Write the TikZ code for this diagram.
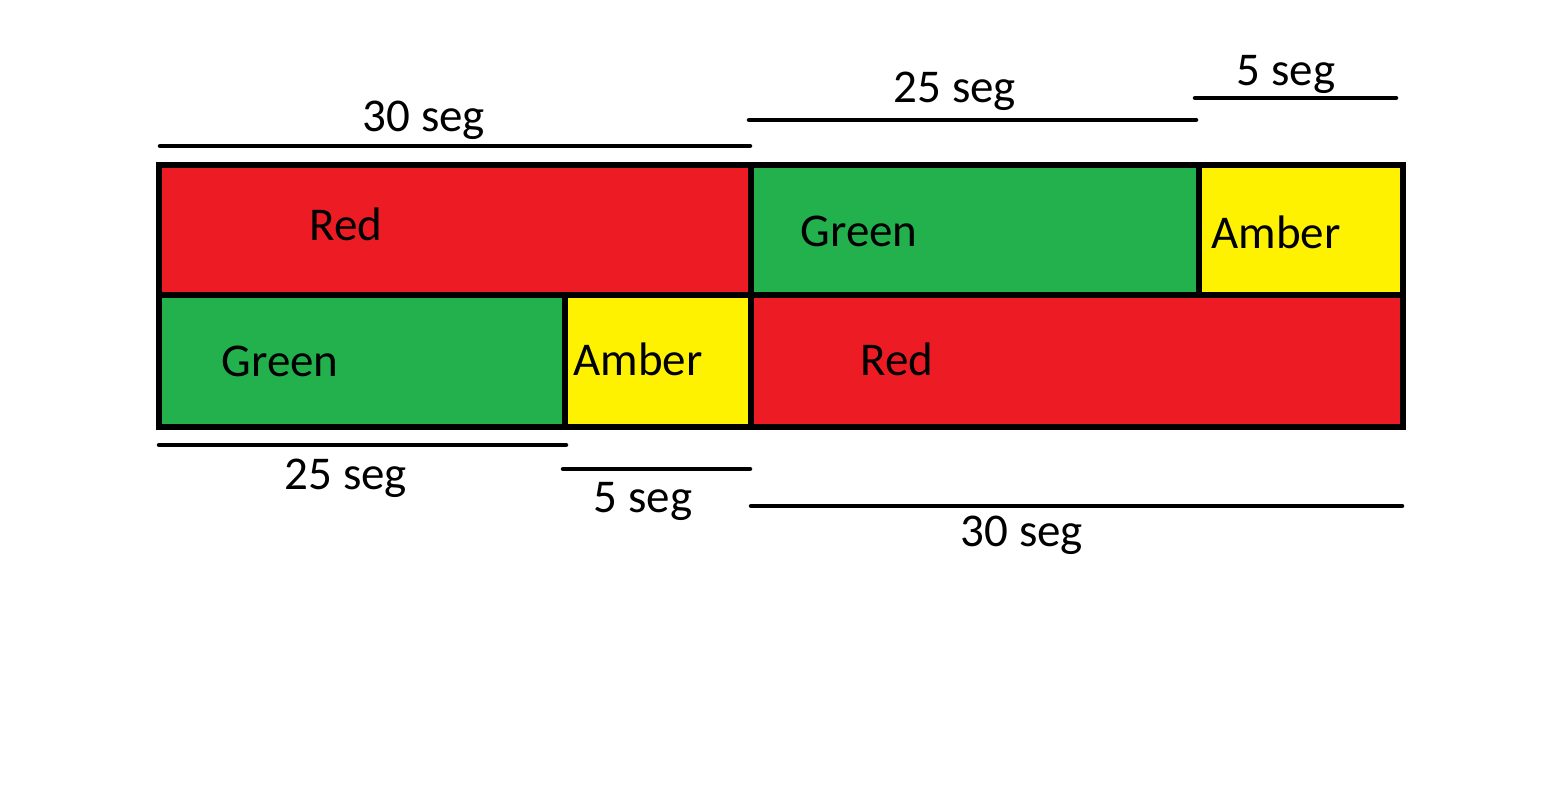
\documentclass[tikz,border=0pt]{standalone}
\usepackage{fontspec}
\setmainfont{Carlito}
\definecolor{pRed}{HTML}{ED1C24}
\definecolor{pGreen}{HTML}{22B14C}
\definecolor{pAmber}{HTML}{FFF200}
\begin{document}
\begin{tikzpicture}[x=1pt,y=-1pt,
  cell/.style={draw=black,line width=5.5pt},
  lbl/.style={anchor=base,inner sep=0pt,font=\fontsize{47}{52}\selectfont},
  dim/.style={line width=4.5pt,line cap=round}]
\useasboundingbox (0,0) rectangle (1541,806);
% top row
\filldraw[cell,fill=pRed] (159,165) rectangle (751,295);
\filldraw[cell,fill=pGreen] (751,165) rectangle (1199,295);
\filldraw[cell,fill=pAmber] (1199,165) rectangle (1403,295);
% bottom row
\filldraw[cell,fill=pGreen] (159,295) rectangle (565,427);
\filldraw[cell,fill=pAmber] (565,295) rectangle (751,427);
\filldraw[cell,fill=pRed] (751,295) rectangle (1403,427);
\draw[line width=5pt] (1199,295) -- (1199,298);
% labels in cells
\node[lbl] (r1) at (346,240) {Red};
\node[lbl] (g1) at (859,246) {Green};
\node[lbl] (a1) at (1276,248) {Amber};
\node[lbl] (g2) at (280,376) {Green};
\node[lbl] (a2) at (638,375) {Amber};
\node[lbl] (r2) at (897,375) {Red};
% dimension lines
\coordinate (t1a) at (160,146); \coordinate (t1b) at (750,146);
\coordinate (t2a) at (749,120); \coordinate (t2b) at (1196,120);
\coordinate (t3a) at (1195,98); \coordinate (t3b) at (1396,98);
\coordinate (b1a) at (159,445); \coordinate (b1b) at (566,445);
\coordinate (b2a) at (563,469); \coordinate (b2b) at (750,469);
\coordinate (b3a) at (751,506); \coordinate (b3b) at (1402,506);
\draw[dim] (t1a) -- (t1b);
\draw[dim] (t2a) -- (t2b);
\draw[dim] (t3a) -- (t3b);
\draw[dim] (b1a) -- (b1b);
\draw[dim] (b2a) -- (b2b);
\draw[dim] (b3a) -- (b3b);
\node[lbl] (d1) at (424,131) {30 seg};
\node[lbl] (d2) at (955,102) {25 seg};
\node[lbl] (d3) at (1286,85) {5 seg};
\node[lbl] (d4) at (346,489) {25 seg};
\node[lbl] (d5) at (643,512) {5 seg};
\node[lbl] (d6) at (1022,546) {30 seg};
\end{tikzpicture}
\end{document}
